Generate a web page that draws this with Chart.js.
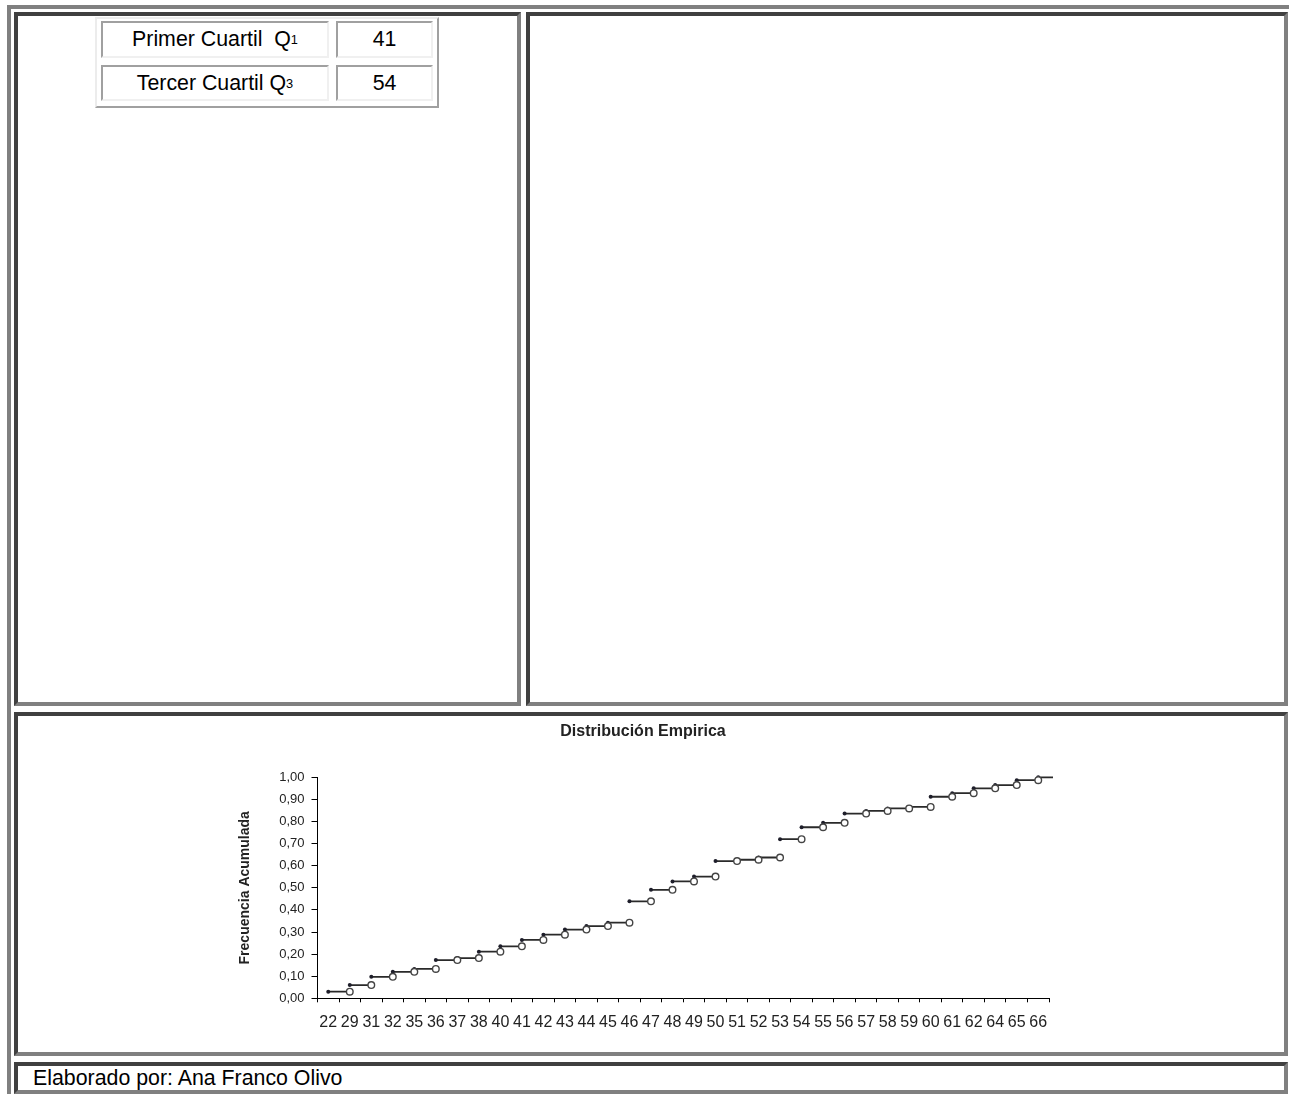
<!DOCTYPE html>
<html lang="es">
<head>
<meta charset="utf-8">
<title>Distribución Empírica</title>
<script src="https://cdn.jsdelivr.net/npm/chart.js@4.4.1/dist/chart.umd.min.js"></script>
<style>
  html, body { margin: 0; padding: 0; background: #fff; overflow: hidden; }
  body { width: 1289px; height: 1094px; position: relative; font-family: "Liberation Sans", Arial, sans-serif; color: #000; }
  .marco { position: absolute; left: 7px; top: 5px; width: 1400px; height: 1200px; border: 4px solid #808080; }
  .celda { position: absolute; box-sizing: border-box; border: 4px solid; border-color: #404040 #808080 #808080 #404040; background: #fff; }
  .tabla { position: absolute; left: 95px; top: 17px; width: 344px; height: 91px; box-sizing: border-box;
           border: 2px solid; border-color: #ececec #a0a0a0 #a0a0a0 #ececec; }
  .q { position: absolute; box-sizing: border-box; border: 2px solid; border-color: #a0a0a0 #f0f0f0 #f0f0f0 #a0a0a0;
       display: flex; align-items: center; justify-content: center; font-size: 21.33px; }
  .q sub { font-size: 0.6em; vertical-align: -0.2em; }
  .pie { position: absolute; left: 33px; top: 1066px; height: 24px; line-height: 24px; font-size: 21.33px; }
  #grafico { position: absolute; left: 18px; top: 716px; }
</style>
</head>
<body>
<div class="marco"></div>
<div class="celda" style="left:14px; top:12px; width:507px; height:694px;"></div>
<div class="celda" style="left:526px; top:12px; width:762px; height:694px;"></div>
<div class="celda" style="left:14px; top:712px; width:1274px; height:344px;"></div>
<div class="celda" style="left:14px; top:1062px; width:1274px; height:32px;"></div>

<div class="tabla"></div>
<div class="q" style="left:101px; top:21px; width:228px; height:37px;">Primer Cuartil&nbsp; Q<sub>1</sub></div>
<div class="q" style="left:336px; top:21px; width:97px; height:37px;">41</div>
<div class="q" style="left:101px; top:65px; width:228px; height:36px;">Tercer Cuartil Q<sub>3</sub></div>
<div class="q" style="left:336px; top:65px; width:97px; height:36px;">54</div>

<canvas id="grafico" width="1266" height="336"></canvas>
<div class="pie">Elaborado por: Ana Franco Olivo</div>

<script>
// valores de la distribución empírica
const categorias = ['22', '29', '31', '32', '35', '36', '37', '38', '40', '41', '42', '43', '44', '45', '46', '47', '48',
                    '49', '50', '51', '52', '53', '54', '55', '56', '57', '58', '59', '60', '61', '62', '64', '65', '66'];
const frecAcumulada = [0.030, 0.060, 0.097, 0.120, 0.133, 0.173, 0.182, 0.211, 0.235, 0.264, 0.288, 0.311,
                       0.327, 0.342, 0.439, 0.491, 0.529, 0.551, 0.621, 0.627, 0.637, 0.720, 0.774, 0.794,
                       0.836, 0.848, 0.859, 0.866, 0.912, 0.928, 0.950, 0.965, 0.987, 1.000];
const yMin = 0;
const yMax = 1;
const yPaso = 0.1;

Chart.defaults.font.family = '"Liberation Sans", Arial, sans-serif';

// escalones: cada tramo va de la categoría i a la i+1
const tramos = [];
frecAcumulada.forEach((f, i) => {
    tramos.push({ x: i, y: f }, { x: i + 1, y: f }, { x: i + 1, y: null });
});
const inicios = frecAcumulada.map((f, i) => ({ x: i, y: f }));
const finales = frecAcumulada.slice(0, -1).map((f, i) => ({ x: i + 1, y: f }));

const ctx = document.getElementById('grafico').getContext('2d');
new Chart(ctx, {
    type: 'scatter',
    data: {
        datasets: [
            {
                label: 'fin',
                data: finales,
                showLine: false,
                pointRadius: 3.3,
                pointBackgroundColor: '#fff',
                pointBorderColor: '#444',
                pointBorderWidth: 1.4,
                clip: false
            },
            {
                label: 'inicio',
                data: inicios,
                showLine: false,
                pointRadius: 2,
                pointBackgroundColor: '#1e1e2a',
                pointBorderWidth: 0,
                clip: false
            },
            {
                label: 'escalones',
                data: tramos,
                showLine: true,
                spanGaps: false,
                borderColor: '#2a2a2a',
                borderWidth: 1.8,
                pointRadius: 0,
                clip: { left: 0, top: 5, right: 4, bottom: 0 }
            }
        ]
    },
    options: {
        responsive: false,
        animation: false,
        events: [],
        layout: { padding: { left: 219, right: 235, top: 0, bottom: 13.7 } },
        plugins: {
            legend: { display: false },
            tooltip: { enabled: false },
            title: {
                display: true,
                text: 'Distribución Empirica',
                color: '#222',
                font: { size: 16, weight: 'bold' },
                padding: { top: 6, bottom: 36.1 }
            }
        },
        scales: {
            x: {
                type: 'linear',
                min: -0.5,
                max: categorias.length - 0.5,
                afterBuildTicks: scale => {
                    scale.ticks = categorias.map((c, i) => ({ value: i }));
                },
                afterFit: scale => { scale.height = 40; },
                ticks: {
                    callback: value => categorias[value],
                    autoSkip: false,
                    maxRotation: 0,
                    padding: 11,
                    color: '#222',
                    font: { size: 16 }
                },
                grid: { offset: true, drawOnChartArea: false, tickLength: 4, color: '#000' },
                border: { color: '#000', width: 1 }
            },
            y: {
                min: yMin,
                max: yMax,
                afterFit: scale => { scale.width = 80.5; },
                ticks: {
                    stepSize: yPaso,
                    callback: value => value.toFixed(2).replace('.', ','),
                    padding: 7,
                    color: '#222',
                    font: { size: 13 }
                },
                grid: { drawOnChartArea: false, tickLength: 6, color: '#000' },
                border: { color: '#000', width: 1 },
                title: {
                    display: true,
                    text: 'Frecuencia Acumulada',
                    color: '#222',
                    font: { size: 14, weight: 'bold' },
                    padding: 0
                }
            }
        }
    }
});
</script>
</body>
</html>
